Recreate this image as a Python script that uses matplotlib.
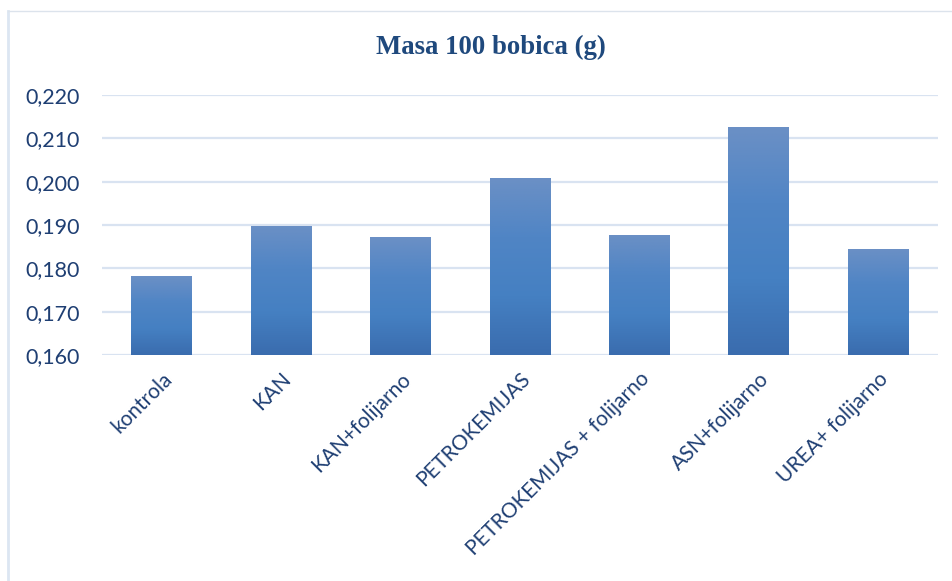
import matplotlib
matplotlib.use("Agg")
import matplotlib.pyplot as plt
import numpy as np
from matplotlib.lines import Line2D
from matplotlib.ticker import FuncFormatter, MultipleLocator
from matplotlib.colors import LinearSegmentedColormap

categories = ["kontrola", "KAN", "KAN+folijarno", "PETROKEMIJAS",
              "PETROKEMIJAS + folijarno", "ASN+folijarno", "UREA+ folijarno"]
values = [0.1782, 0.1898, 0.1872, 0.2008, 0.1877, 0.2126, 0.1845]
title = "Masa 100 bobica (g)"
ymin, ymax, ystep = 0.160, 0.220, 0.010

text_color = "#1F3F73"
title_color = "#1F497D"
grid_color = "#D9E3F1"

fig = plt.figure(figsize=(9.53, 5.81), dpi=100)
ax = fig.add_axes([102/953, 1-355/581, (938-102)/953, (355-95)/581])

x = np.arange(len(categories))
bars = ax.bar(x, [v - ymin for v in values], bottom=ymin, width=0.51,
              color="none", edgecolor="none", zorder=3)

# vertical gradient: lighter at top, darker at bottom
grad = np.linspace(0, 1, 256).reshape(-1, 1)
cmap = LinearSegmentedColormap.from_list(
    "g", ["#3A6CAE", "#4580C2", "#5085C5", "#6B90C5"])
for b in bars:
    x0, y0 = b.get_x(), b.get_y()
    w, h = b.get_width(), b.get_height()
    im = ax.imshow(grad, extent=(x0, x0 + w, y0, y0 + h), origin="lower",
                   cmap=cmap, aspect="auto", zorder=3, interpolation="bilinear")
    im.set_clip_path(b)

ax.set_xlim(-0.5, len(categories) - 0.5)
ax.set_ylim(ymin, ymax)
ax.yaxis.set_major_locator(MultipleLocator(ystep))
ax.yaxis.set_major_formatter(FuncFormatter(lambda v, p: f"{v:.3f}".replace(".", ",")))
ax.grid(axis="y", color=grid_color, linewidth=1.6, zorder=0)
ax.set_axisbelow(True)
for s in ax.spines.values():
    s.set_visible(False)

ax.set_xticks(x)
ax.set_xticklabels(categories, rotation=45, ha="right", va="top",
                   rotation_mode="anchor", fontsize=15, color=text_color,
                   family=["Lato", "DejaVu Sans"])
ax.tick_params(axis="x", length=0, pad=10)
ax.tick_params(axis="y", length=0, pad=16, labelsize=15.5, labelcolor=text_color)
for lab in ax.get_yticklabels():
    lab.set_family(["Lato", "DejaVu Sans"])

fig.text(491/953, 1-47/581, title, ha="center", va="center", fontsize=19.3,
         fontweight="bold", color=title_color, family=["Liberation Serif", "DejaVu Serif"])

# chart area border lines
fig.add_artist(Line2D([8.5/953, 8.5/953], [0, 1-11/581], transform=fig.transFigure,
                      color="#DCE6F2", linewidth=2))
fig.add_artist(Line2D([8/953, 1], [1-11/581, 1-11/581], transform=fig.transFigure,
                      color="#DCE3EC", linewidth=1))

fig.savefig("out.png", dpi=100)
